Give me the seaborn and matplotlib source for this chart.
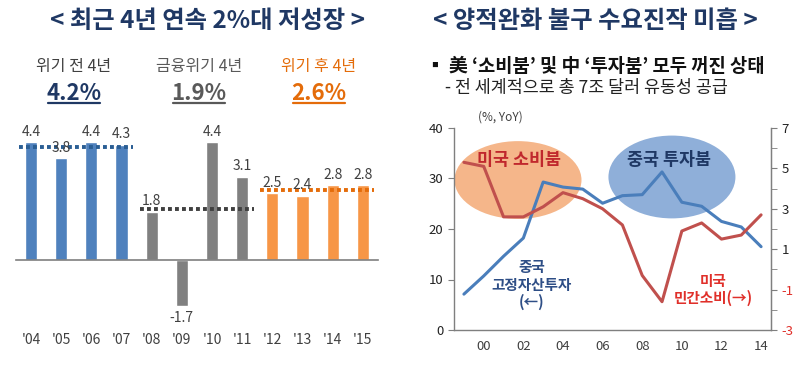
import numpy as np
import pandas as pd
import matplotlib
matplotlib.use("Agg")
import matplotlib.pyplot as plt
import matplotlib.transforms as mtransforms
from matplotlib.patches import Ellipse
from matplotlib.lines import Line2D
import seaborn as sns

# ---------------- data ----------------
bar_labels = ["'04", "'05", "'06", "'07", "'08", "'09", "'10", "'11", "'12", "'13", "'14", "'15"]
gdp_growth = [4.4, 3.8, 4.4, 4.3, 1.8, -1.7, 4.4, 3.1, 2.5, 2.4, 2.8, 2.8]
periods = ["pre"] * 4 + ["crisis"] * 4 + ["post"] * 4
period_order = ["pre", "crisis", "post"]
period_titles = ["위기 전 4년", "금융위기 4년", "위기 후 4년"]
period_avgs = ["4.2%", "1.9%", "2.6%"]
period_avg_values = [4.2, 1.9, 2.6]

line_years = list(range(1999, 2015))
china_fai = [7.1, 10.7, 14.6, 18.2, 29.3, 28.3, 27.9, 25.1, 26.6, 26.8, 31.3, 25.3, 24.5, 21.5, 20.4, 16.5]
us_consumption = [5.3, 5.1, 2.6, 2.6, 3.1, 3.8, 3.5, 3.0, 2.2, -0.3, -1.6, 1.9, 2.3, 1.5, 1.7, 2.7]
x_tick_years = [2000, 2002, 2004, 2006, 2008, 2010, 2012, 2014]
x_tick_labels = ["00", "02", "04", "06", "08", "10", "12", "14"]
left_ticks = [0, 10, 20, 30, 40]
right_ticks = [-3, -1, 1, 3, 5, 7]

# ---------------- style ----------------
sns.set_style("white")
plt.rcParams["font.family"] = ["Noto Sans CJK KR", "DejaVu Sans"]

NAVY = "#1F3864"
BAR_COLORS = {"pre": "#4F81BD", "crisis": "#808080", "post": "#F79646"}
AVG_COLORS = ["#2A5E94", "#404040", "#E46C0A"]
HEAD_COLORS = ["#404040", "#595959", "#E46C0A"]
VAL_COLORS = [NAVY, "#595959", "#E46C0A"]
BLUE_LINE = "#4A7EBB"
RED_LINE = "#C0504D"
TXT = "#404040"

W, H = 804, 369
fig = plt.figure(figsize=(W / 100, H / 100), dpi=100)


def fx(px):
    return px / W


def fy(py):
    return 1 - py / H


# ---------------- left panel ----------------
fig.text(fx(208), fy(21), "< 최근 4년 연속 2%대 저성장 >", ha="center", va="center",
         fontsize=17.5, fontweight="bold", color=NAVY)

head_x = [74, 199, 319]
val_texts = []
for i in range(3):
    fig.text(fx(head_x[i]), fy(67), period_titles[i], ha="center", va="center",
             fontsize=11.5, color=HEAD_COLORS[i])
    t = fig.text(fx(head_x[i]), fy(93), period_avgs[i], ha="center", va="center",
                 fontsize=16, fontweight="bold", color=VAL_COLORS[i])
    val_texts.append(t)

ax1 = fig.add_axes([fx(15.9), (H - 319) / H, fx(362), 182.3 / H])
df = pd.DataFrame({"year": bar_labels, "growth": gdp_growth, "period": periods})
sns.barplot(data=df, x="year", y="growth", hue="period", hue_order=period_order,
            palette=BAR_COLORS, dodge=False, width=0.4, ax=ax1, legend=False,
            saturation=1)
ax1.set_xlim(-0.5, 11.5)
ax1.set_ylim(-2.2, 4.6)
for s in ["top", "left", "right"]:
    ax1.spines[s].set_visible(False)
ax1.spines["bottom"].set_position(("data", 0))
ax1.spines["bottom"].set_color("#7F7F7F")
ax1.spines["bottom"].set_linewidth(1.2)
ax1.set_yticks([])
ax1.set_xticks(range(len(bar_labels)))
ax1.set_xticklabels([])
ax1.tick_params(axis="x", which="major", length=0)
ax1.set_xticks(np.arange(-0.5, len(bar_labels), 1.0), minor=True)
ax1.tick_params(axis="x", which="minor", length=3, color="#7F7F7F", direction="out")
ax1.set_xlabel("")
ax1.set_ylabel("")
ax1.set_facecolor("none")

trans = mtransforms.blended_transform_factory(ax1.transData, ax1.transAxes)
for i, lab in enumerate(bar_labels):
    ax1.text(i, -0.115, lab, transform=trans, ha="center", va="center",
             fontsize=10, color=TXT)

for i, v in enumerate(gdp_growth):
    off = 7.5 if v >= 0 else -9
    ax1.annotate(f"{v}", (i, v), xytext=(0, off), textcoords="offset points",
                 ha="center", va="center", fontsize=10, color=TXT, zorder=5)

for g in range(3):
    idx = [i for i, p in enumerate(periods) if p == period_order[g]]
    ax1.hlines(period_avg_values[g], idx[0] - 0.4, idx[-1] + 0.38,
               colors=AVG_COLORS[g], linestyles=(0, (1, 0.8)), linewidth=2.8,
               zorder=4)

# ---------------- right panel ----------------
fig.text(fx(595), fy(21), "< 양적완화 불구 수요진작 미흡 >", ha="center", va="center",
         fontsize=17.5, fontweight="bold", color=NAVY)
fig.text(fx(426), fy(67), "▪ 美 ‘소비붐’ 및 中 ‘투자붐’ 모두 꺼진 상태", ha="left",
         va="center", fontsize=13.5, fontweight="bold", color="#111111")
fig.text(fx(445), fy(88), "- 전 세계적으로 총 7조 달러 유동성 공급", ha="left",
         va="center", fontsize=12.5, color="#222222")

ax2 = fig.add_axes([fx(454), (H - 330) / H, fx(317), 202 / H])
ax2.add_patch(Ellipse((2001.73, 29.7), 6.41, 15.4, facecolor="#F5B68A", edgecolor="none", zorder=0))
ax2.add_patch(Ellipse((2009.5, 30.3), 6.41, 16.4, facecolor="#8FAFD9", edgecolor="none", zorder=0))
sns.lineplot(x=line_years, y=china_fai, ax=ax2, color=BLUE_LINE, linewidth=2.2, zorder=3)
ax2.set_xlim(1998.5, 2014.5)
ax2.set_ylim(0, 40)
ax2.set_yticks(left_ticks)
ax2.set_yticklabels([str(t) for t in left_ticks])
ax2.set_xticks(x_tick_years)
ax2.set_xticklabels(x_tick_labels)
ax2.set_xticks(np.arange(1998.5, 2015, 1.0), minor=True)
ax2.tick_params(axis="x", which="major", length=0, labelsize=9.5, labelcolor=TXT, pad=7)
ax2.tick_params(axis="x", which="minor", length=3, color="#7F7F7F", direction="out")
ax2.tick_params(axis="y", which="major", length=4, color="#7F7F7F", labelsize=9.5,
                labelcolor="#222222", direction="out")
for s in ["top"]:
    ax2.spines[s].set_visible(False)
for s in ["left", "bottom", "right"]:
    ax2.spines[s].set_color("#7F7F7F")
    ax2.spines[s].set_linewidth(1.0)
ax2.set_facecolor("none")

ax3 = ax2.twinx()
sns.lineplot(x=line_years, y=us_consumption, ax=ax3, color=RED_LINE, linewidth=2.2, zorder=3)
ax3.set_ylim(-3, 7)
ax3.set_yticks(right_ticks)
ax3.set_yticklabels([str(t) for t in right_ticks])
ax3.set_yticks(np.arange(-3, 8, 1), minor=True)
ax3.tick_params(axis="y", which="both", length=4, color="#7F7F7F", labelsize=9.5, direction="out")
for lab, t in zip(ax3.get_yticklabels(), right_ticks):
    lab.set_color("#E0302A" if t < 0 else "#222222")
ax3.spines["top"].set_visible(False)
ax3.spines["right"].set_color("#7F7F7F")
ax3.spines["left"].set_visible(False)
ax3.spines["bottom"].set_visible(False)
ax3.set_ylabel("")
ax2.set_ylabel("")

fig.text(fx(500), fy(117), "(%, YoY)", ha="center", va="center", fontsize=8.5, color=TXT)
fig.text(fx(519), fy(160), "미국 소비붐", ha="center", va="center", fontsize=12.5,
         fontweight="bold", color="#C0282D", zorder=10)
fig.text(fx(669), fy(160), "중국 투자붐", ha="center", va="center", fontsize=12.5,
         fontweight="bold", color=NAVY, zorder=10)
for txt, py in [("중국", 267), ("고정자산투자", 285), ("(←)", 302)]:
    fig.text(fx(532), fy(py), txt, ha="center", va="center", fontsize=10.5,
             fontweight="bold", color="#2E4E86", zorder=10)
for txt, py in [("미국", 281), ("민간소비(→)", 298)]:
    fig.text(fx(713), fy(py), txt, ha="center", va="center", fontsize=10.5,
             fontweight="bold", color="#E0302A", zorder=10)

# underlines for averages
fig.canvas.draw()
renderer = fig.canvas.get_renderer()
for t, c in zip(val_texts, VAL_COLORS):
    bb = t.get_window_extent(renderer=renderer)
    fig.add_artist(Line2D([bb.x0 / W + 0.002, bb.x1 / W - 0.002], [fy(103), fy(103)],
                          transform=fig.transFigure, color=c, linewidth=1.6))

fig.savefig("out.png", dpi=100)
